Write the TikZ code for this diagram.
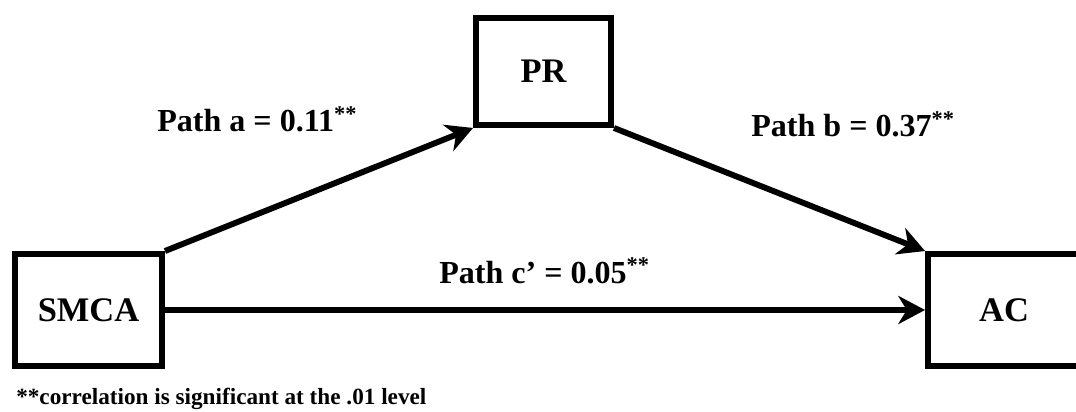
\documentclass[tikz,border=0pt]{standalone}
\usepackage{fontspec}
\setmainfont{Liberation Serif}
\usetikzlibrary{arrows.meta,positioning}
\tikzset{varbox/.style={draw=black,line width=4.2pt,inner sep=0pt,font=\bfseries\fontsize{24.5}{28}\selectfont}}
\tikzset{pathlbl/.style={anchor=base west,inner sep=0pt,font=\bfseries\fontsize{22.8}{26}\selectfont}}
\tikzset{conn/.style={-{Stealth[length=19pt,width=20pt,inset=6pt]},line width=4.2pt}}

\begin{document}
\begin{tikzpicture}[x=0.025cm,y=-0.025cm]
\useasboundingbox (0,0) rectangle (1076,412);
% \draw[help lines] (0,0) grid (1076,412);
\node (smca) [varbox,minimum width=3.675cm,minimum height=2.8cm] at (88.5,310) {SMCA};
\node (pr) [varbox,minimum width=3.375cm,minimum height=2.675cm] at (543.5,71.5) {PR};
\node (ac) [varbox,minimum width=3.8cm,minimum height=2.8cm] at (1004,310) {AC};
%
\draw[conn] (smca.north east) -- (pr.south west);
\draw[conn] (pr.south east) -- (ac.north west);
\draw[conn] (smca.east) -- (ac.west);
%
\node (lbla) [pathlbl] at (157,132) {Path a = 0.11\textsuperscript{**}};
\node (lblb) [pathlbl] at (751,137) {Path b = 0.37\textsuperscript{**}};
\node (lblc) [pathlbl] at (439,283) {Path c’ = 0.05\textsuperscript{**}};
\node (note) [anchor=base west,inner sep=0pt,font=\bfseries\fontsize{16.5}{19}\selectfont] at (16,404) {**correlation is significant at the .01 level};
\end{tikzpicture}
\end{document}
